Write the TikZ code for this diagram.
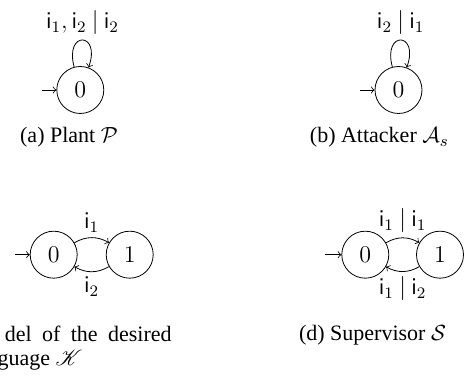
\documentclass[tikz,border=0pt]{standalone}
\usepackage{fontspec}
\setmainfont{Liberation Serif}
\usepackage{mathrsfs}
\newcommand{\sep}{\mathbin{|}}
\begin{document}
\begin{tikzpicture}[x=0.5pt,y=0.5pt,
  state/.style={draw,circle,minimum size=23.5pt,inner sep=0pt,font=\large},
  lbl/.style={font=\large,inner sep=2.5pt},
  captxt/.style={inner sep=0pt,font=\fontsize{11}{12}\selectfont},
  tr/.style={->}]
\useasboundingbox (0,0) rectangle (472,384);
% (a)
\node[state] (a0) at (80.3,294) {$0$};
\coordinate (ai) at (41.7,294);
\draw[tr] (ai) -- (a0);
\draw[tr] (a0) to[out=105,in=70,distance=19pt] node[lbl,above] (la) {$\mathsf{i}_1,\mathsf{i}_2\sep\mathsf{i}_2$} (a0);
\node[captxt,anchor=base] (capa) at (69,241) {(a) Plant $\mathcal{P}$};
% (b)
\node[state] (b0) at (398.5,294) {$0$};
\coordinate (bi) at (360,294);
\draw[tr] (bi) -- (b0);
\draw[tr] (b0) to[out=105,in=70,distance=19pt] node[lbl,above] (lb) {$\mathsf{i}_2\sep\mathsf{i}_1$} (b0);
\node[captxt,anchor=base] (capb) at (379.3,241) {(b) Attacker $\mathcal{A}_s$};
% (c)
\node[state] (c0) at (53.7,129.3) {$0$};
\node[state] (c1) at (129.7,129.3) {$1$};
\coordinate (ci) at (15,129.3);
\draw[tr] (ci) -- (c0);
\draw[tr] (c0) to[bend left=30] node[lbl,above] (lc1) {$\mathsf{i}_1$} (c1);
\draw[tr] (c1) to[bend left=30] node[lbl,below] (lc2) {$\mathsf{i}_2$} (c0);
\node[captxt,anchor=base east] (capc1) at (172,42.5) {\spaceskip=5.2pt del of the desired};
\node[captxt,anchor=base east] (capc2) at (83,18.5) {guage $\mathscr{K}$};
% (d)
\node[state] (d0) at (365.3,129.3) {$0$};
\node[state] (d1) at (440,129.3) {$1$};
\coordinate (di) at (325.3,129.3);
\draw[tr] (di) -- (d0);
\draw[tr] (d0) to[bend left=30] node[lbl,above] (ld1) {$\mathsf{i}_1\sep\mathsf{i}_1$} (d1);
\draw[tr] (d1) to[bend left=30] node[lbl,below] (ld2) {$\mathsf{i}_1\sep\mathsf{i}_2$} (d0);
\node[captxt,anchor=base] (capd) at (372.5,43.5) {(d) Supervisor $\mathcal{S}$};
\end{tikzpicture}
\end{document}
